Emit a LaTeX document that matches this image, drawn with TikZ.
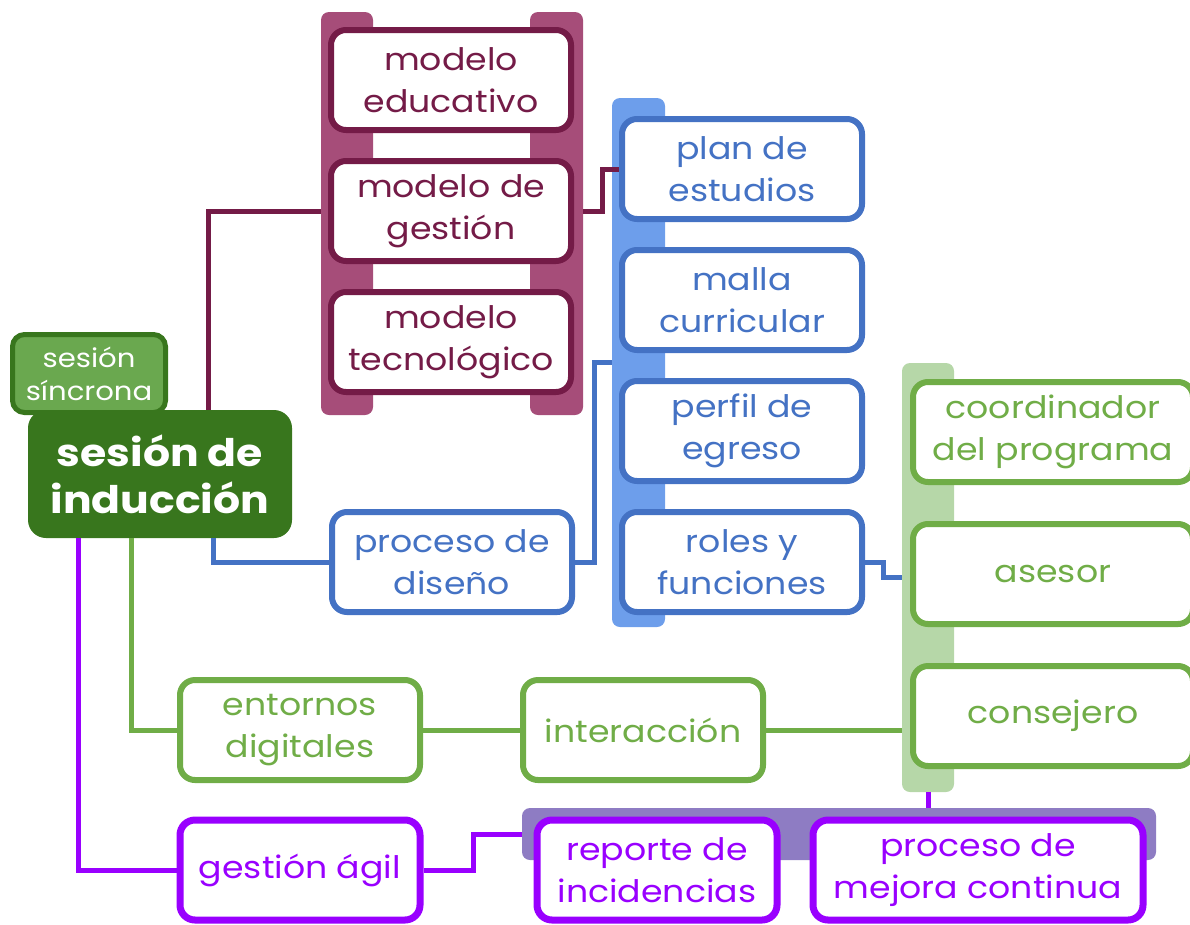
\documentclass[tikz,border=0pt]{standalone}
\usepackage{fontspec}
\setmainfont{Poppins}[FakeStretch=1.12]
\usepackage{tikz}
\usetikzlibrary{positioning}

\definecolor{hubgreen}{HTML}{38761D}
\definecolor{syncgreen}{HTML}{6AA84F}
\definecolor{modmaroon}{HTML}{741B47}
\definecolor{maroonbar}{HTML}{A64D79}
\definecolor{planblue}{HTML}{4472C4}
\definecolor{bluebarc}{HTML}{6D9EEB}
\definecolor{rolgreen}{HTML}{70AD47}
\definecolor{greenbarc}{HTML}{B6D7A8}
\definecolor{agilpurple}{HTML}{9900FF}
\definecolor{purplebarc}{HTML}{8E7CC3}

\begin{document}
\begin{tikzpicture}[x=1pt,y=-1pt,
    box/.style={draw,fill=white,rounded corners=15pt,line width=6pt,minimum width=240pt,minimum height=100pt,align=center,inner sep=0pt,font=\fontsize{31}{42}\selectfont},
    maroonbox/.style={box,draw=modmaroon,text=modmaroon},
    bluebox/.style={box,draw=planblue,text=planblue},
    greenbox/.style={box,draw=rolgreen,text=rolgreen},
    purplebox/.style={box,draw=agilpurple,text=agilpurple,line width=7pt},
    bar/.style={rounded corners=8pt,inner sep=0pt},
    link/.style={line width=5pt}]
    \useasboundingbox (0,0) rectangle (1190,924);

    \node[bar,fill=maroonbar,minimum width=52pt,minimum height=403pt](mbarleft) at (347,213.5){};
    \node[bar,fill=maroonbar,minimum width=53pt,minimum height=403pt](mbarright) at (556.5,213.5){};
    \node[bar,fill=bluebarc,minimum width=53pt,minimum height=529pt](bluebar) at (638.5,362.5){};
    \node[bar,fill=greenbarc,minimum width=52pt,minimum height=429pt](greenbar) at (928,577.5){};
    \node[bar,fill=purplebarc,minimum width=634pt,minimum height=52pt](purplebar) at (839,834){};

    \node[draw=hubgreen,line width=5pt,fill=syncgreen,rounded corners=12pt,minimum width=153pt,minimum height=78pt,text=white,align=center,font=\fontsize{26}{33}\selectfont](sincrona) at (89,373.5){sesión\\síncrona};
    \node[fill=hubgreen,rounded corners=18pt,minimum width=264pt,minimum height=128pt,text=white,align=center,font=\bfseries\fontsize{38}{47}\selectfont](hub) at (160,474){sesión de\\inducción};

    \node[maroonbox](educativo) at (451,80){modelo\\educativo};
    \node[maroonbox](gestion)[below=25pt of educativo]{modelo de\\gestión};
    \node[maroonbox](tecnologico)[below=25pt of gestion]{modelo\\tecnológico};

    \node[bluebox](plan) at (742,169){plan de\\estudios};
    \node[bluebox](malla)[below=25pt of plan]{malla\\curricular};
    \node[bluebox](perfil)[below=25pt of malla]{perfil de\\egreso};
    \node[bluebox](roles)[below=25pt of perfil]{roles y\\funciones};
    \node[bluebox](diseno) at (452,562){proceso de\\diseño};

    \node[greenbox,minimum width=280pt](coordinador) at (1053,432){coordinador\\del programa};
    \node[greenbox,minimum width=280pt](asesor)[below=36pt of coordinador]{asesor};
    \node[greenbox,minimum width=280pt](consejero)[below=36pt of asesor]{consejero};
    \node[greenbox](entornos) at (300,730){entornos\\digitales};
    \node[greenbox](interaccion)[right=97pt of entornos]{interacción};

    \node[purplebox](agil) at (300,870){gestión ágil};
    \node[purplebox](reporte) at (657,870){reporte de\\incidencias};
    \node[purplebox,minimum width=330pt](mejora) at (978,870){proceso de\\mejora continua};

    \draw[link,modmaroon] ([xshift=48pt]hub.north) |- (gestion.west -| mbarleft.west);
    \draw[link,modmaroon] (gestion.east -| mbarright.east) -- ++(19,0) |- (plan.west);
    \draw[link,planblue] ([xshift=53pt]hub.south) |- (diseno.west);
    \draw[link,planblue] (diseno.east) -- ++(19,0) |- (bluebar.west);
    \draw[link,planblue] (roles.east) -- ++(18,0) |- (greenbar.west);
    \draw[link,rolgreen] ([xshift=-29pt]hub.south) |- (entornos.west);
    \draw[link,rolgreen] (entornos.east) -- (interaccion.west);
    \draw[link,rolgreen] (interaccion.east) -- (interaccion.east -| greenbar.west);
    \draw[link,agilpurple] ([xshift=-82pt]hub.south) |- (agil.west);
    \draw[link,agilpurple] (agil.east) -- ++(50,0) |- (purplebar.west);
    \draw[link,agilpurple] (greenbar.south) -- (greenbar.south |- purplebar.north);
\end{tikzpicture}
\end{document}
